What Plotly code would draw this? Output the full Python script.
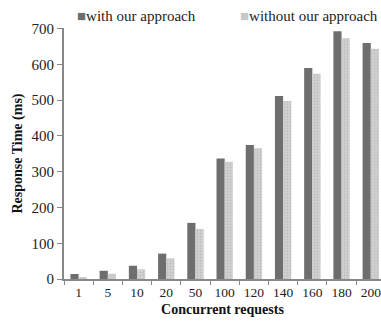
import plotly.graph_objects as go

categories = ["1", "5", "10", "20", "50", "100", "120", "140", "160", "180", "200"]
with_approach = [14, 23, 37, 71, 157, 337, 375, 512, 590, 693, 660]
without_approach = [5, 15, 27, 58, 140, 328, 366, 498, 574, 673, 644]
y_ticks = [0, 100, 200, 300, 400, 500, 600, 700]
series_names = ["with our approach", "without our approach"]
series_colors = ["#6e6e6e", "#c8c8c8"]

font_family = "Liberation Serif, Times New Roman, serif"

fig = go.Figure()
fig.add_trace(go.Bar(
    x=categories, y=with_approach, name=series_names[0],
    marker=dict(color=series_colors[0], line=dict(width=0)),
))
fig.add_trace(go.Bar(
    x=categories, y=without_approach, name=series_names[1],
    marker=dict(color=series_colors[1], line=dict(width=0),
                pattern=dict(shape=".", fgcolor="#a8a8a8", bgcolor="#d2d2d2", size=3, solidity=0.3)),
))

# legend drawn as text annotations
legend_x = [0.035, 0.55]
for name, color, lx in zip(series_names, series_colors, legend_x):
    fig.add_annotation(
        xref="paper", yref="paper", x=lx, y=1.0, xanchor="left", yanchor="bottom",
        text=f'<span style="color:{color}">■</span>{name}', showarrow=False,
        font=dict(family=font_family, size=15, color="#222"), yshift=2,
    )

fig.update_layout(
    width=381, height=321,
    margin=dict(l=64, r=0, t=28, b=42, autoexpand=False),
    paper_bgcolor="white", plot_bgcolor="white",
    barmode="group", bargap=0.44, bargroupgap=0,
    font=dict(family=font_family, size=15, color="#222"),
    showlegend=False,
    xaxis=dict(
        type="category", tickson="boundaries", ticks="outside", ticklen=4,
        tickcolor="#888", showline=True, linecolor="#888", linewidth=2,
        showgrid=False, range=[-0.5, 10.35], tickangle=0,
        tickfont=dict(size=13.5, color="#222"),
        title=dict(text="<b>Concurrent requests</b>", font=dict(size=14, color="#111"), standoff=5),
    ),
    yaxis=dict(
        range=[0, 702], tickvals=y_ticks, ticks="outside", ticklen=5,
        tickcolor="#888", showline=True, linecolor="#888", linewidth=2,
        showgrid=False, zeroline=False,
        tickfont=dict(size=15, color="#222"),
        title=dict(text="<b>Response Time (ms)</b>", font=dict(size=14, color="#111"), standoff=6),
    ),
)

fig.write_html("out.html", config={"displayModeBar": False},
               post_script="document.body.style.margin='0';document.body.style.overflow='hidden';")
